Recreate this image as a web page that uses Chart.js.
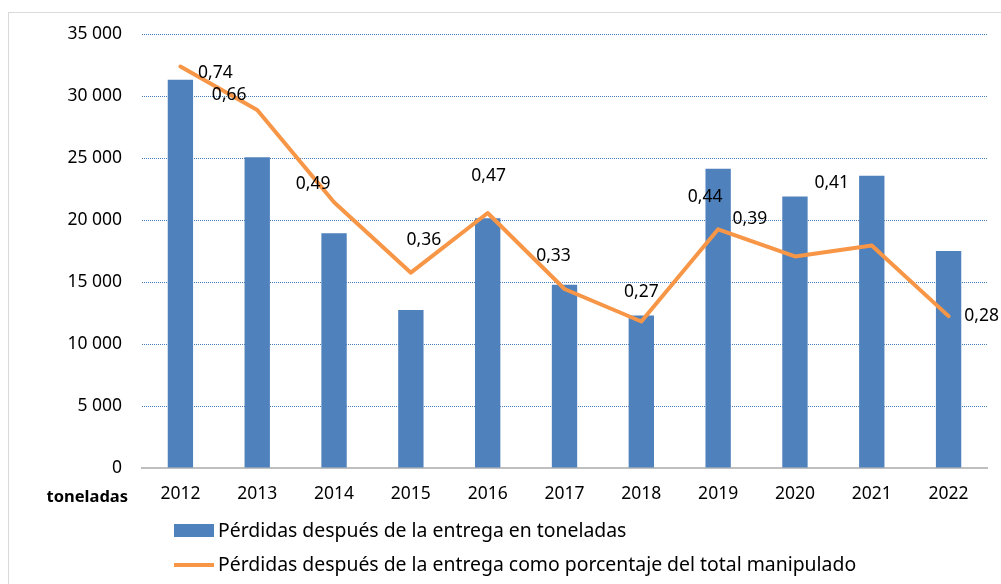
<!DOCTYPE html>
<html lang="es">
<head>
<meta charset="utf-8">
<title>Pérdidas después de la entrega</title>
<script src="https://cdn.jsdelivr.net/npm/chart.js@4.4.1/dist/chart.umd.min.js"></script>
<style>
  html, body { margin: 0; padding: 0; background: #fff; }
  #wrap { position: relative; width: 1001px; height: 584px; }
</style>
</head>
<body>
<div id="wrap"><canvas id="chart"></canvas></div>
<script>
// Datos
const anios = ['2012', '2013', '2014', '2015', '2016', '2017', '2018', '2019', '2020', '2021', '2022'];
const perdidasToneladas = [31310, 25070, 18940, 12750, 20150, 14770, 12290, 24130, 21900, 23560, 17510];
const perdidasPorcentaje = [0.74, 0.66, 0.49, 0.36, 0.47, 0.33, 0.27, 0.44, 0.39, 0.41, 0.28];
const etiquetaBarras = 'Pérdidas después de la entrega en toneladas';
const etiquetaLinea = 'Pérdidas después de la entrega como porcentaje del total manipulado';
const tituloEje = 'toneladas';

// Desplazamiento de cada etiqueta de dato respecto a su punto (px)
const desplazEtiquetas = [[35, 6], [-28, -15], [-21, -18], [13, -33], [1, -37], [-11, -33],
                          [0, -30], [-13, -32], [-45, -37], [-40, -63], [33, 0]];

const fuente = { family: '"Noto Sans", sans-serif', size: 17.5 };
const fuenteLeyenda = 19.4;
const AZUL = '#4F81BD';
const NARANJA = '#F79646';

function miles(v) {
    return String(v).replace(/\B(?=(\d{3})+(?!\d))/g, ' ');
}

// Marco, etiquetas de datos, título del eje y leyenda
const extras = {
    id: 'extras',
    beforeDraw(chart) {
        const ctx = chart.ctx;
        ctx.save();
        ctx.fillStyle = '#fff';
        ctx.fillRect(0, 0, chart.width, chart.height);
        ctx.strokeStyle = '#d9d9d9';
        ctx.lineWidth = 1;
        ctx.strokeRect(8.5, 12.5, chart.width + 20, chart.height + 20);
        ctx.restore();
    },
    afterDatasetsDraw(chart) {
        const ctx = chart.ctx;
        const meta = chart.getDatasetMeta(1);
        ctx.save();
        ctx.font = fuente.size + 'px ' + fuente.family;
        ctx.fillStyle = '#000';
        ctx.textAlign = 'center';
        ctx.textBaseline = 'middle';
        meta.data.forEach((pt, i) => {
            const d = desplazEtiquetas[i];
            const txt = perdidasPorcentaje[i].toFixed(2).replace('.', ',');
            ctx.fillText(txt, pt.x + d[0], pt.y + d[1]);
        });
        ctx.restore();
    },
    afterDraw(chart) {
        const ctx = chart.ctx;
        const area = chart.chartArea;
        ctx.save();
        ctx.fillStyle = '#000';
        ctx.textBaseline = 'middle';
        ctx.textAlign = 'right';
        ctx.font = 'bold 16.5px ' + fuente.family;
        ctx.fillText(tituloEje, 128, area.bottom + 29);

        // leyenda
        ctx.textAlign = 'left';
        ctx.font = fuenteLeyenda + 'px ' + fuente.family;
        const ds = chart.data.datasets;
        let y = 531;
        ds.forEach(d => {
            if (d.type === 'bar') {
                ctx.fillStyle = d.backgroundColor;
                ctx.fillRect(174, y - 7, 40, 13);
            } else {
                ctx.strokeStyle = d.borderColor;
                ctx.lineWidth = 4;
                ctx.beginPath();
                ctx.moveTo(174, y);
                ctx.lineTo(214, y);
                ctx.stroke();
            }
            ctx.fillStyle = '#000';
            ctx.fillText(d.label, 218, y);
            y += 34;
        });
        ctx.restore();
    }
};

const ctx = document.getElementById('chart').getContext('2d');
new Chart(ctx, {
    data: {
        labels: anios,
        datasets: [{
            type: 'bar',
            label: etiquetaBarras,
            data: perdidasToneladas,
            backgroundColor: AZUL,
            yAxisID: 'y',
            barPercentage: 0.33,
            categoryPercentage: 1,
            order: 2
        }, {
            type: 'line',
            label: etiquetaLinea,
            data: perdidasPorcentaje,
            borderColor: NARANJA,
            backgroundColor: NARANJA,
            borderWidth: 4,
            pointRadius: 0,
            tension: 0,
            borderJoinStyle: 'round',
            borderCapStyle: 'round',
            yAxisID: 'y2',
            order: 1
        }]
    },
    options: {
        responsive: true,
        maintainAspectRatio: false,
        animation: false,
        layout: { padding: { left: 0, right: 14, top: 34, bottom: 0 } },
        plugins: {
            legend: { display: false },
            tooltip: { enabled: false }
        },
        scales: {
            x: {
                grid: { display: false, drawTicks: false },
                border: { color: '#bfbfbf', width: 2 },
                ticks: { font: fuente, color: '#000', padding: 16, maxRotation: 0 },
                afterFit: s => { s.height = 116; }
            },
            y: {
                min: 0,
                max: 35000,
                ticks: { stepSize: 5000, font: fuente, color: '#000', padding: 20, callback: v => miles(v) },
                grid: { color: '#4a7ebb', lineWidth: 1, drawTicks: false },
                border: { display: false, dash: [1, 1] },
                afterFit: s => { s.width = 142; }
            },
            y2: {
                display: false,
                min: 0,
                max: 0.8
            }
        }
    },
    plugins: [extras]
});
</script>
</body>
</html>
